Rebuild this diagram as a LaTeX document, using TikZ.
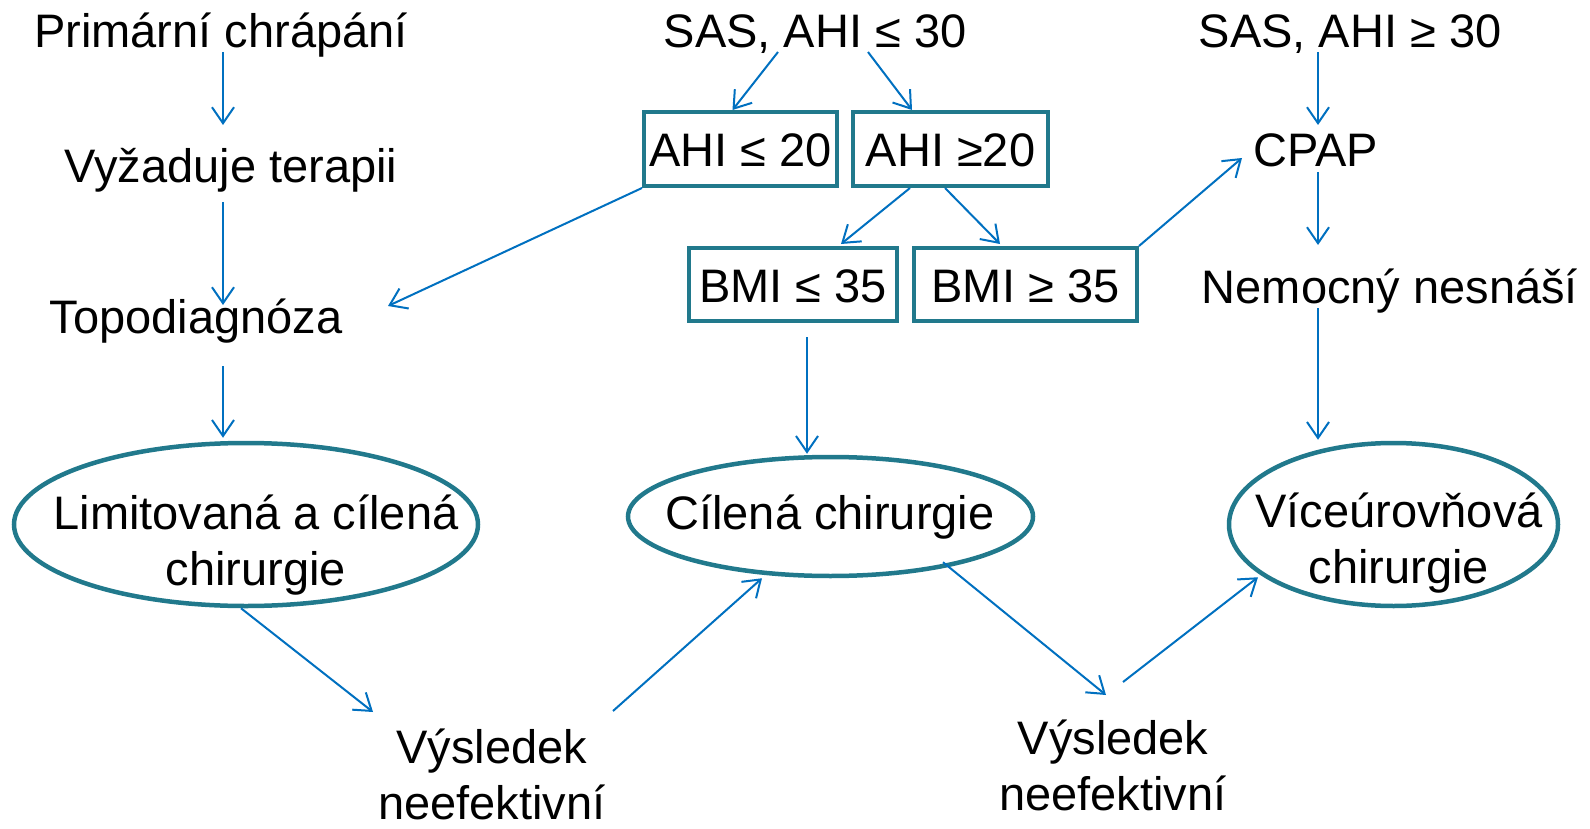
\documentclass[tikz,border=0pt]{standalone}
\usepackage{fontspec}
\setmainfont{Liberation Sans}
\usetikzlibrary{shapes.geometric,arrows.meta}

\definecolor{arrblue}{RGB}{0,112,192}
\definecolor{boxteal}{RGB}{33,121,140}

\tikzset{
  txt/.style={font=\fontsize{47}{56}\selectfont, inner sep=0pt, anchor=base, align=center},
  crit/.style={draw=boxteal, line width=4pt, inner sep=0pt, font=\fontsize{47}{56}\selectfont,
    text height=36pt, text depth=0pt},
  oval/.style={ellipse, draw=boxteal, line width=4.5pt, inner sep=0pt},
  arr/.style={draw=arrblue, line width=2pt, -{Straight Barb[length=16pt,width=22pt,line width=2pt]}}
}

\begin{document}
\begin{tikzpicture}[x=1pt, y=-1pt]
    \useasboundingbox (0,0) rectangle (1590,829);

    % left column
    \node[txt] (prim) at (221, 48) {Primární chrápání};
    \node[txt] (vyz) at (231, 183) {Vyžaduje terapii};
    \node[txt] (topo) at (196, 333) {Topodiagnóza};
    \node[oval, minimum width=464, minimum height=163] (ell1) at (246, 524.5) {};
    \node[txt] (lim) at (256, 585) {Limitovaná a cílená\\chirurgie};
    \node[txt] (vys1) at (492, 819) {Výsledek\\neefektivní};

    % middle column
    \node[txt] (sas1) at (815, 48) {SAS, AHI ≤ 30};
    \node[crit, minimum width=193, minimum height=74] (ahia) at (740.5, 149) {AHI ≤ 20};
    \node[crit, minimum width=195, minimum height=74] (ahib) at (950.5, 149) {AHI ≥20\ };
    \node[crit, minimum width=208, minimum height=73] (bmia) at (793, 284.5) {BMI ≤ 35};
    \node[crit, minimum width=223, minimum height=73] (bmib) at (1025.5, 284.5) {BMI ≥ 35};
    \node[oval, minimum width=405, minimum height=119] (ell2) at (830.5, 516.5) {};
    \node[txt] (cil) at (830, 529) {Cílená chirurgie};
    \node[txt] (vys2) at (1113, 810) {Výsledek\\neefektivní};

    % right column
    \node[txt] (sas2) at (1350, 48) {SAS, AHI ≥ 30};
    \node[txt] (cpap) at (1316, 167) {CPAP};
    \node[txt] (nem) at (1390, 303) {Nemocný nesnáší};
    \node[oval, minimum width=329, minimum height=163] (ell3) at (1393.5, 524.5) {};
    \node[txt] (vic) at (1399, 583) {Víceúrovňová\\chirurgie};

    % arrows
    \draw[arr] ([shift={(2,4)}]prim.base) -- ([shift={(-8,-58)}]vyz.base);
    \draw[arr] ([shift={(-8,19)}]vyz.base) -- ([shift={(27,-28)}]topo.base);
    \draw[arr] ([shift={(27,33)}]topo.base) -- ([shift={(-23,-3)}]ell1.north);
    \draw[arr] (ahia.south west) -- ([shift={(192,-27)}]topo.base);
    \draw[arr] ([shift={(-37,4)}]sas1.base) -- ([shift={(-8,0)}]ahia.north);
    \draw[arr] ([shift={(53,4)}]sas1.base) -- ([shift={(-38.5,0)}]ahib.north);
    \draw[arr] ([shift={(-40.5,0)}]ahib.south) -- ([shift={(48,-2)}]bmia.north);
    \draw[arr] ([shift={(-5.5,0)}]ahib.south) -- ([shift={(-25.5,-2)}]bmib.north);
    \draw[arr] (bmib.north east) -- ([shift={(-74,-9)}]cpap.base);
    \draw[arr] ([shift={(14,14)}]bmia.south) -- ([shift={(-23.5,-1)}]ell2.north);
    \draw[arr] ([shift={(-5,0)}]ell1.south) -- ([shift={(-119,-107)}]vys1.base);
    \draw[arr] ([shift={(121,-108)}]vys1.base) -- ([shift={(-68.5,0)}]ell2.south);
    \draw[arr] ([shift={(112.5,-16)}]ell2.south) -- ([shift={(-7,-115)}]vys2.base);
    \draw[arr] ([shift={(10,-128)}]vys2.base) -- ([shift={(-135.5,-31)}]ell3.south);
    \draw[arr] ([shift={(-32,4)}]sas2.base) -- ([shift={(2,-42)}]cpap.base);
    \draw[arr] ([shift={(2,5)}]cpap.base) -- ([shift={(-72,-58)}]nem.base);
    \draw[arr] ([shift={(-72,5)}]nem.base) -- ([shift={(-75.5,-1)}]ell3.north);
\end{tikzpicture}
\end{document}
